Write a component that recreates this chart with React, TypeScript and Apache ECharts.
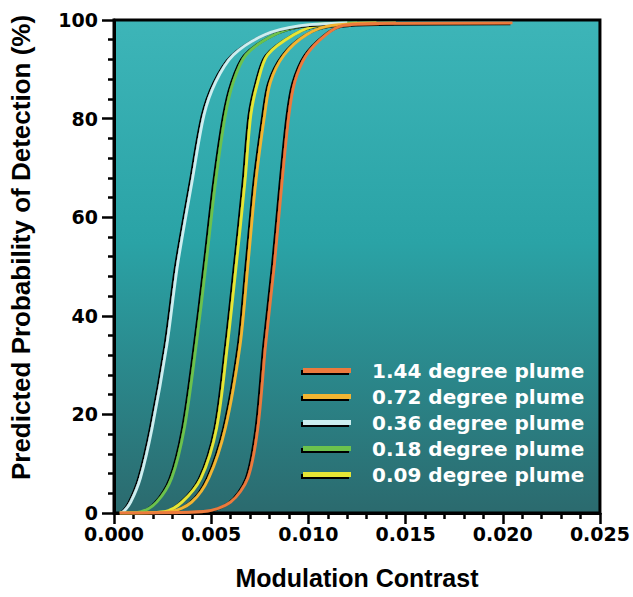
import React, { useEffect, useRef } from "react";
import * as echarts from "echarts";

// Modulation contrast (x) and predicted probability of detection in % (y), per plume size
const contrast144 = [0.0003, 0.0046, 0.006, 0.00689, 0.0074, 0.0078, 0.00825, 0.00865, 0.009, 0.0093, 0.0099, 0.0109, 0.0118, 0.014, 0.0205];
const prob144 = [0, 0.3, 2.2, 7.1, 17.2, 34.1, 50.3, 67.3, 80.7, 87.4, 92.9, 97, 98.9, 99.3, 99.4];

const contrast072 = [0.0003, 0.0029, 0.004, 0.00488, 0.00573, 0.00649, 0.00689, 0.0073, 0.00775, 0.00805, 0.00875, 0.0099, 0.0112, 0.0145];
const prob072 = [0, 0.3, 2.2, 7.1, 17.2, 34.1, 50.3, 67.3, 80.7, 87.4, 92.9, 97, 98.9, 99.4];

const contrast036 = [0.0003, 0.0005, 0.00086, 0.00136, 0.00196, 0.00272, 0.00327, 0.00402, 0.00463, 0.00523, 0.00614, 0.00775, 0.0095, 0.012];
const prob036 = [0, 0.3, 2.2, 7.1, 17.2, 34.1, 50.3, 67.3, 80.7, 87.4, 92.9, 97, 98.8, 99.4];

const contrast018 = [0.0003, 0.0014, 0.0022, 0.00297, 0.00362, 0.00423, 0.00473, 0.00523, 0.00573, 0.00614, 0.00679, 0.00825, 0.0098, 0.0125];
const prob018 = [0, 0.3, 2.2, 7.1, 17.2, 34.1, 50.3, 67.3, 80.7, 87.4, 92.9, 97, 98.9, 99.4];

const contrast009 = [0.0003, 0.0026, 0.0035, 0.00448, 0.00528, 0.00584, 0.00629, 0.00674, 0.00704, 0.0074, 0.0079, 0.00925, 0.0105, 0.0135];
const prob009 = [0, 0.3, 2.2, 7.1, 17.2, 34.1, 50.3, 67.3, 80.7, 87.4, 92.9, 97, 98.9, 99.4];

const seriesNames = ["1.44 degree plume", "0.72 degree plume", "0.36 degree plume", "0.18 degree plume", "0.09 degree plume"];
const seriesColors = ["#ec7a3c", "#f2b533", "#cdeef0", "#6cc24e", "#e6e636"];
const seriesX = [contrast144, contrast072, contrast036, contrast018, contrast009];
const seriesY = [prob144, prob072, prob036, prob018, prob009];

const xTickLabels = ["0.000", "0.005", "0.010", "0.015", "0.020", "0.025"];
const yTickLabels = ["0", "20", "40", "60", "80", "100"];

const FONT = "'Liberation Sans', Arial, sans-serif";
const TICK_FONT = "'DejaVu Sans', sans-serif";

export default function App() {
  const ref = useRef<HTMLDivElement>(null);
  useEffect(() => {
    if (!ref.current) return;
    const chart = echarts.init(ref.current, null, { renderer: "svg" });
    const series = seriesNames.map((name, i) => ({
      name,
      type: "line",
      data: seriesX[i].map((x, j) => [x, seriesY[i][j]]),
      smooth: 0.3,
      showSymbol: false,
      symbol: "none",
      itemStyle: { color: seriesColors[i] },
      lineStyle: {
        color: seriesColors[i],
        width: 2.8,
        shadowColor: "#000",
        shadowBlur: 0,
        shadowOffsetX: -2,
        shadowOffsetY: 1,
      },
      z: 10 - i,
    }));
    chart.setOption({
      animation: false,
      backgroundColor: "#ffffff",
      grid: {
        left: 108,
        right: 28,
        top: 20,
        bottom: 84,
        show: true,
        borderColor: "#000",
        borderWidth: 3,
        backgroundColor: new echarts.graphic.LinearGradient(0, 0, 0, 1, [
          { offset: 0, color: "#3db5b8" },
          { offset: 0.45, color: "#2aa3a6" },
          { offset: 1, color: "#2b6a6e" },
        ]),
      },
      legend: {
        data: seriesNames,
        orient: "vertical",
        left: 298,
        top: 354,
        icon: "rect",
        itemWidth: 48,
        itemHeight: 5,
        itemGap: 3,
        itemStyle: {
          shadowColor: "#000",
          shadowBlur: 0,
          shadowOffsetX: -2,
          shadowOffsetY: 2,
        },
        textStyle: {
          color: "#ffffff",
          fontFamily: TICK_FONT,
          fontWeight: "bold",
          fontSize: 20,
          lineHeight: 23,
          padding: [0, 0, 0, 16],
          textShadowColor: "#000",
          textShadowBlur: 0,
          textShadowOffsetX: -1,
          textShadowOffsetY: 2,
        },
      },
      xAxis: {
        type: "value",
        min: 0,
        max: 0.025,
        interval: 0.005,
        name: "Modulation Contrast",
        nameLocation: "middle",
        nameGap: 52,
        nameTextStyle: { fontFamily: FONT, fontWeight: "bold", fontSize: 25, color: "#000" },
        axisLine: { show: true, onZero: false, lineStyle: { color: "#000", width: 3 } },
        axisTick: { show: true, length: 11, lineStyle: { color: "#000", width: 2.5 } },
        minorTick: { show: true, splitNumber: 5, length: 6, lineStyle: { color: "#000", width: 2.5 } },
        splitLine: { show: false },
        minorSplitLine: { show: false },
        axisLabel: {
          color: "#000",
          fontFamily: TICK_FONT,
          fontWeight: "bold",
          fontSize: 19,
          lineHeight: 20,
          margin: 11,
          formatter: (v: number) => xTickLabels[Math.round(v / 0.005)] ?? v.toFixed(3),
        },
      },
      yAxis: {
        type: "value",
        min: 0,
        max: 100,
        interval: 20,
        name: "Predicted Probability of Detection (%)",
        nameLocation: "middle",
        nameGap: 80,
        nameTextStyle: {
          fontFamily: FONT,
          fontWeight: "bold",
          fontSize: 26,
          color: "#000",
          padding: [0, 0, 0, 38],
        },
        axisLine: { show: true, lineStyle: { color: "#000", width: 3 } },
        axisTick: { show: true, length: 12, lineStyle: { color: "#000", width: 2.5 } },
        minorTick: { show: true, splitNumber: 5, length: 6, lineStyle: { color: "#000", width: 2.5 } },
        splitLine: { show: false },
        minorSplitLine: { show: false },
        axisLabel: {
          color: "#000",
          fontFamily: TICK_FONT,
          fontWeight: "bold",
          fontSize: 19,
          lineHeight: 18,
          margin: 16,
          formatter: (v: number) => yTickLabels[Math.round(v / 20)] ?? String(v),
        },
      },
      series,
    });
    return () => chart.dispose();
  }, []);
  return (
    <div
      ref={ref}
      style={{ position: "fixed", left: 0, top: 0, width: 633, height: 597, background: "#fff" }}
    />
  );
}
